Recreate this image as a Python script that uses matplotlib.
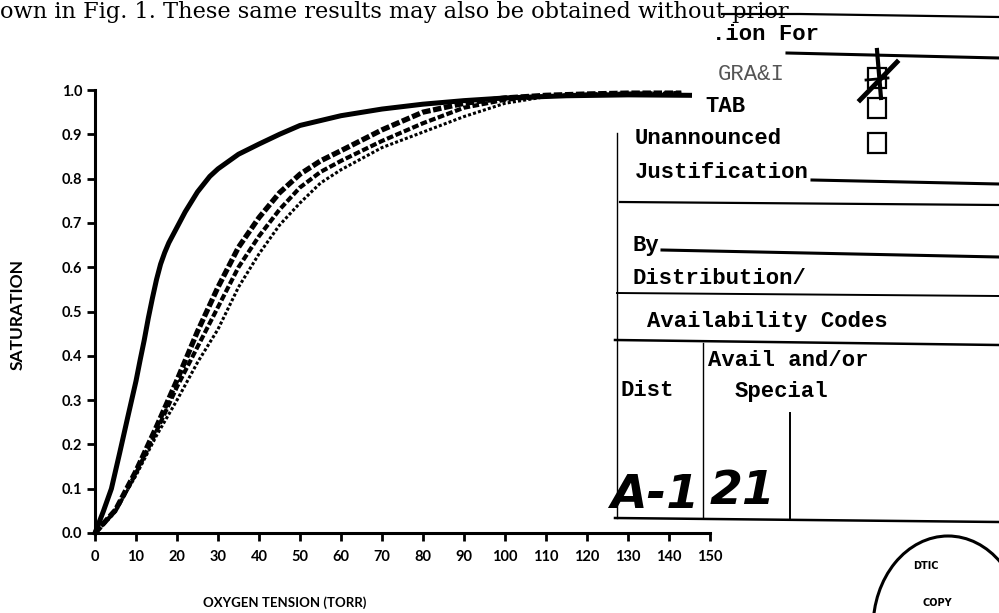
import numpy as np
import matplotlib
matplotlib.use('Agg')
import matplotlib.pyplot as plt
from matplotlib.patches import Ellipse, Rectangle

# oxygen tension (torr) vs saturation
x_solid = [0, 2, 4, 6, 8, 10, 11, 12, 13, 14, 15, 16, 17, 18, 20, 22, 25, 28, 30, 35, 40,
           45, 50, 60, 70, 80, 90, 100, 115, 130, 145]
y_solid = [0, 0.048, 0.1, 0.18, 0.262, 0.343, 0.39, 0.435, 0.485, 0.53, 0.572, 0.607, 0.633,
           0.655, 0.69, 0.725, 0.77, 0.805, 0.822, 0.855, 0.878, 0.9, 0.92, 0.942, 0.957,
           0.968, 0.976, 0.982, 0.987, 0.989, 0.988]

x_dash = [0, 5, 10, 15, 20, 25, 30, 35, 40, 45, 50, 55, 60, 70, 80, 90, 100, 110, 120,
          130, 143]
y_dash = [0, 0.052, 0.14, 0.24, 0.345, 0.455, 0.555, 0.645, 0.712, 0.768, 0.81, 0.84,
          0.863, 0.91, 0.95, 0.97, 0.982, 0.988, 0.991, 0.993, 0.993]

x_mid = [0, 5, 10, 15, 20, 25, 30, 35, 40, 45, 50, 55, 60, 70, 80, 90, 100, 110, 120,
         130, 143]
y_mid = [0, 0.05, 0.135, 0.23, 0.33, 0.42, 0.51, 0.6, 0.67, 0.73, 0.78, 0.815, 0.84,
         0.885, 0.925, 0.96, 0.978, 0.986, 0.99, 0.992, 0.993]

x_dot = [0, 5, 10, 15, 20, 25, 30, 35, 40, 45, 50, 55, 60, 70, 80, 90, 100, 110, 120,
         130, 143]
y_dot = [0, 0.05, 0.13, 0.22, 0.30, 0.385, 0.46, 0.555, 0.63, 0.695, 0.745, 0.79, 0.82,
         0.87, 0.905, 0.94, 0.97, 0.985, 0.99, 0.992, 0.993]

x_ticks = list(range(0, 151, 10))
y_ticks = [0.0, 0.1, 0.2, 0.3, 0.4, 0.5, 0.6, 0.7, 0.8, 0.9, 1.0]

plt.rcParams['font.family'] = ['Lato', 'DejaVu Sans']
plt.rcParams['font.weight'] = 'bold'

W, H = 999, 613
fig = plt.figure(figsize=(W / 100, H / 100), dpi=100)
ax = fig.add_axes([95 / W, 80 / H, 615 / W, 443 / H])

ax.plot(x_solid, y_solid, color='black', lw=3.6, clip_on=False)
ax.plot(x_dash, y_dash, color='black', lw=3.8, dashes=(1.6, 0.5), clip_on=False)
ax.plot(x_mid, y_mid, color='black', lw=3.0, dashes=(1.6, 0.6), clip_on=False)
ax.plot(x_dot, y_dot, color='black', lw=2.2, dashes=(1.0, 0.7), clip_on=False)

ax.set_xlim(0, 150)
ax.set_ylim(0, 1)
ax.set_xticks(x_ticks)
ax.set_yticks(y_ticks)
ax.set_yticklabels([f'{v:.1f}' for v in y_ticks])
for s in ['top', 'right']:
    ax.spines[s].set_visible(False)
for s in ['left', 'bottom']:
    ax.spines[s].set_linewidth(2.2)
ax.tick_params(direction='out', length=6, width=2, labelsize=10.5)
ax.tick_params(axis='x', pad=6)
ax.tick_params(axis='y', pad=3)

fig.text(285 / W, 1 - 603 / H, 'OXYGEN TENSION (TORR)', ha='center', va='center', fontsize=9.5)
fig.text(18 / W, 1 - 315 / H, 'SATURATION', rotation=90, ha='center', va='center', fontsize=12.5)

# scanned page overlay: text line above and the accession form
ov = fig.add_axes([0, 0, 1, 1], zorder=5)
ov.set_xlim(0, W)
ov.set_ylim(H, 0)
ov.axis('off')

ov.text(0, 18, 'own in Fig. 1. These same results may also be obtained without prior',
        family='DejaVu Serif', fontweight='normal', fontsize=16.2, va='baseline', ha='left')
ov.plot([722, 800, 999], [14, 14, 17], color='black', lw=1.6)

mono = dict(family='Liberation Mono', fontweight='bold', fontsize=16, va='center', ha='left')
ov.text(712, 34, '.ion For', **mono)
ov.text(718, 75, 'GRA&I', color='#555555', family='Liberation Mono', fontsize=16,
        va='center', ha='left', fontweight='normal')
ov.text(705, 107, 'TAB', **mono)
ov.text(635, 138, 'Unannounced', **mono)
ov.text(635, 172, 'Justification', **mono)
ov.text(633, 245, 'By', **mono)
ov.text(633, 278, 'Distribution/', **mono)
ov.text(647, 322, 'Availability Codes', **mono)
ov.text(708, 360, 'Avail and/or', **mono)
ov.text(620, 390, 'Dist', **mono)
ov.text(735, 392, 'Special', **mono)

for x0, y0, x1, y1, w in [(787, 53, 999, 58, 2.2), (812, 180, 999, 184, 2.2),
                          (620, 202, 999, 205, 1.6), (662, 250, 999, 257, 2.2),
                          (617, 293, 999, 296, 1.4), (615, 340, 999, 345, 1.8),
                          (615, 518, 999, 522, 1.8), (617, 133, 617, 518, 1.0),
                          (703, 343, 703, 518, 1.0), (790, 413, 790, 520, 1.4)]:
    ov.plot([x0, x1], [y0, y1], color='black', lw=w)

for by in [68, 98, 133]:
    ov.add_patch(Rectangle((868, by), 18, 20, fill=False, lw=1.6, ec='black'))
ov.plot([860, 897], [100, 62], color='black', lw=3.5)
ov.plot([877, 881], [50, 98], color='black', lw=3.0)
ov.plot([866, 888], [80, 78], color='black', lw=2.0)

hand = dict(family='DejaVu Sans', style='italic', fontweight='bold', fontsize=34,
            va='bottom', ha='left')
ov.text(610, 518, 'A-1', **hand)
ov.text(710, 514, '21', **hand)

ov.add_patch(Ellipse((948, 628), 150, 184, fill=False, lw=2.2, ec='black'))
ov.text(926, 566, 'DTIC', family='DejaVu Sans', fontsize=7, fontweight='bold',
        ha='center', va='center')
ov.text(937, 603, 'COPY', family='DejaVu Sans', fontsize=7, fontweight='bold',
        ha='center', va='center')

fig.savefig('out.png', dpi=100)
